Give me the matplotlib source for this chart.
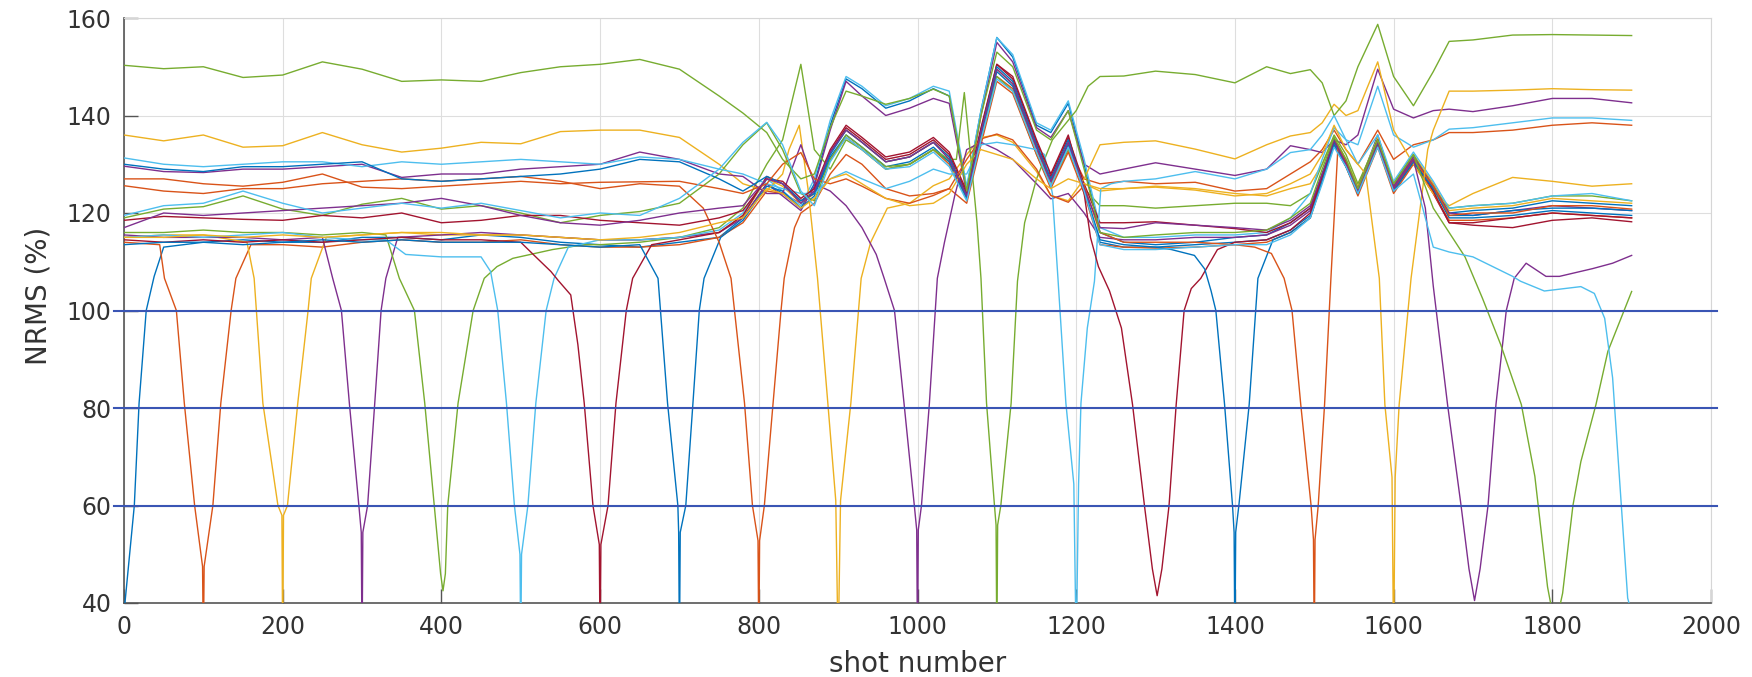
import matplotlib
matplotlib.use("Agg")
import matplotlib.pyplot as plt

# shot positions shared by the smooth part of every trace
SHOT_GRID = [0, 50, 100, 150, 200, 250, 300, 350, 400, 450, 500, 550, 600, 650, 700, 750,
             780, 810, 830, 853, 870, 890, 910, 930, 960, 990, 1020, 1040, 1062, 1080,
             1100, 1120, 1150, 1168, 1190, 1210,
             1230, 1260, 1300, 1350, 1400, 1440, 1470,
             1495, 1510, 1525, 1540, 1555, 1580, 1600, 1625,
             1650, 1670, 1700, 1750, 1800, 1850, 1900]

# ── per trace: NRMS on the grid (None where the dip points take over) + dip points ──
NRMS_00 = [None, 113, 114, 114.5, 114, 114, 115, 115, 114.5, 115.5, 115, 114, 113.5, 113, 114, 115,
           119, 126, 124, 121, 126, 138, 147.5, 145.5, 141.5, 143, 145.5, 144, 125, 141, 156, 152, 138, 136.5, 142.5, 130,
           116, 114, 113.5, 114, 115, 115.5, 118,
           121, 128, 135, 131, 125, 136, 125.5, 131.5,
           126, 120, 120.5, 121, 122.5, 122, 121.5]
DIP_X_00 = [0, 13, 19, 28, 38]
DIP_Y_00 = [38, 60, 81, 100, 107]

NRMS_01 = [114, None, None, None, 113.5, 113, 114, 114.5, 114, 114, 114.5, 113.5, 113, 113, 113.5, 115,
           118, 124.5, 124, 122, 124, 131, 135.5, 133, 129, 130, 133, 130, 123, 135, 148, 145.5, 133, 126, 133.5, 127,
           126, 126.5, 126, 126.3, 124.5, 125, 128,
           130.5, 133, 137, 133, 130, 137, 131, 134,
           135, 136.5, 136.5, 137, 138, 138.5, 138]
DIP_X_01 = [45, 51, 66, 76, 89, 99, 100, 101, 112, 122, 135, 141, 160]
DIP_Y_01 = [113.5, 106.6, 100, 81, 60, 47.5, 30, 47.5, 60, 81, 100, 106.6, 113.5]

NRMS_02 = [115, 115.5, 115.5, None, None, None, 115.5, 116, 115.5, 115.5, 115.5, 115, 114.5, 114.5, 115, 116,
           119.5, 127, 125.5, 122, 124.5, 132.5, 137, 134.5, 130.5, 131.5, 134.5, 131.5, 124, 136, 149.5, 146.5, 134, 127, 134, 126,
           124.5, 125, 125.5, 125, 124, 123.5, 125,
           126, 130, 135.5, 131, 125.5, 135.5, 126, 132,
           126, 120.5, 121, 121.5, 123, 122.5, 122]
DIP_X_02 = [155, 164, 175, 194, 199, 200, 201, 206, 219, 232, 236, 255]
DIP_Y_02 = [114, 106.6, 81, 60, 58, 30, 58, 60, 81, 100, 106.6, 115]

NRMS_03 = [115.5, 115, 115, 115, 114.5, None, None, None, 115.5, 116, 115.5, 115, 114.5, 114.5, 115, 116,
           119, 126, 123.5, 120.5, 125.5, 137, 147, 144, 140, 141.5, 143.5, 142.5, 124, 140, 155, 151, 137.5, 135.5, 141, 130,
           128, 129, 130.3, 129, 127.7, 129, 133.8,
           133, 132.4, 135, 134, 136, 149.5, 141.3, 139.5,
           141, 141.3, 140.8, 142, 143.5, 143.5, 142.6]
DIP_X_03 = [250, 263, 274, 284, 296, 299, 300, 301, 307, 316, 324, 330, 345]
DIP_Y_03 = [115, 106.6, 100, 81, 60, 54.5, 30, 54.5, 60, 81, 100, 106.6, 115]

NRMS_04 = [116, 116, 116.5, 116, 116, 115.5, 116, None, None, None, None, None, 113.5, 114, 115, 117,
           121, 130, 135, 150.5, 133, 129, 135, 133, 129, 130, 133, 130.5, 123, 135, 148, 145, 132, 125.5, 133, 125,
           121.5, 121.5, 121, 121.5, 122, 122, 121.5,
           124, 130, 136, 132, 126, 135, 126, 132,
           125, 121, 121.5, 122, 123.5, 123.5, 122.5]
DIP_X_04 = [330, 347, 366, 379, 391, 399, 402, 405, 408, 421, 440, 454, 470, 490, 540, 580]
DIP_Y_04 = [115.5, 106.6, 100, 81, 60, 46, 42.5, 46, 60, 81, 100, 106.6, 109, 110.7, 112.5, 113.5]

NRMS_05 = [115, 115.5, 115, 115.5, 116, 115, 114.5, None, None, None, None, None, 114.5, 114.5, 115, 116.5,
           120, 127, 124.5, 121.5, 127, 139, 148, 146, 142, 143.5, 146, 145, 125.5, 141, 156, 152.5, 138.5, 137, 143, 131,
           117, 115, 115, 115.5, 115.5, 116, 119,
           124, 131, 137.5, 135, 134, 146, 136, 133.5,
           135, 137.2, 137.5, 138.5, 139.5, 139.5, 139]
DIP_X_05 = [330, 355, 400, 450, 462, 471, 482, 492, 499, 500, 501, 509, 519, 532, 542, 560]
DIP_Y_05 = [114.5, 111.5, 111, 111, 108, 100, 81, 60, 50, 30, 50, 60, 81, 100, 106.6, 113]

NRMS_06 = [114.5, 114, 114.5, 114, 114.5, 114, 114.5, 115, 114.5, 114.5, None, None, None, None, 114.5, 116,
           119.5, 127.5, 126, 122.5, 124.5, 132.5, 137.5, 135, 131, 132, 135, 132, 124, 137, 150.5, 147.5, 134.5, 127.5, 135.5, 126,
           118, 118, 118.2, 117.5, 116.8, 116, 118,
           121, 128, 134, 129.5, 124, 134, 124.5, 130.5,
           124, 118, 117.5, 117, 118.5, 119, 118.2]
DIP_X_06 = [500, 517, 538, 547, 563, 572, 580, 591, 599, 600, 601, 610, 620, 633, 641, 665]
DIP_Y_06 = [114, 111.3, 108, 106.2, 103.2, 93, 81, 60, 52, 30, 52, 60, 81, 100, 106.6, 113.5]

NRMS_07 = [113.5, 114, 114, 113.5, 114, 114.5, 114, 114.5, 114, 114, 114, 113.5, 113, None, None, None,
           118.5, 125.5, 124.5, 121, 123.5, 131.5, 136, 133.5, 129.5, 130.5, 133.5, 130.5, 123, 136, 149, 146, 133.5, 126.5, 134, 124.5,
           114, 113, 113, 113.5, 114, 114.5, 116.5,
           119.5, 127, 134.5, 130, 124, 134, 124.5, 130.5,
           125, 119, 119, 119.5, 120.5, 120, 119.5]
DIP_X_07 = [650, 673, 685, 698, 699, 700, 701, 708, 717, 725, 731, 752]
DIP_Y_07 = [113.5, 106.6, 81, 60, 54.5, 30, 54.5, 60, 81, 100, 106.6, 115]

NRMS_08 = [125.6, 124.5, 124, 125, 125, 126, 126.5, 127, 126.5, 127, 127.5, 126.5, 125, 126, None, None,
           None, None, None, 120, 122, 128, 132, 130, 125, 123.5, 124, 125, 122, 134, 147, 144.5, 132, 125, 132.5, 124,
           113.5, 113, 112.8, 113, 113.5, 114, 116,
           119, 126.5, 134, 129.5, 123.5, 133.5, 124, 130,
           124, 118.5, 118.5, 119, 120, 119.5, 119]
DIP_X_08 = [700, 730, 750, 765, 782, 792, 799, 800, 801, 807, 818, 828, 832, 845]
DIP_Y_08 = [125.5, 121, 114, 106.6, 81, 60, 52.8, 30, 52.8, 60, 81, 100, 106.6, 117]

NRMS_09 = [136, 134.8, 136, 133.5, 133.8, 136.5, 134, 132.5, 133.3, 134.5, 134.2, 136.7, 137, 137, 135.5, 130,
           126, 124.5, 128, None, None, None, None, None, None, 122, 125.6, 127, 132, 135.5, 136, 134.5, 128.5, 123.6, 122.5, 127,
           134, 134.5, 134.8, 133.1, 131.1, 134, 135.8,
           136.5, 138.5, 142.3, 140, 141, 151, 137, 130,
           124, 121.5, 124, 127.3, 126.5, 125.5, 126]
DIP_X_09 = [838, 851, 862, 874, 887, 897, 900, 903, 916, 929, 941, 962]
DIP_Y_09 = [133, 138, 125, 106.6, 81, 61, 30, 61, 81, 106.6, 114, 121]

NRMS_10 = [129.6, 128.5, 128.3, 129, 129, 129.5, 130, 127.3, 128, 128, 129, 129.5, 130, 132.5, 131, 128,
           127.5, 124, 124, 134, 126, 124.5, 121.5, 117, None, None, None, None, 133, 134.5, 133, 131, 126, 122.9, 124, 120,
           115, 114.5, 114.5, 115, 115, 115.5, 117.5,
           120.5, 127.5, 135, 130.5, 125, 135, 125.5, 131.5,
           125.5, 120, 119.5, 120.5, 121.5, 121, 120.5]
DIP_X_10 = [948, 958, 971, 983, 996, 999, 1000, 1001, 1005, 1015, 1025, 1034, 1047]
DIP_Y_10 = [111.5, 106.6, 100, 81, 60, 55, 30, 55, 60, 81, 106.6, 114, 123.6]

NRMS_11 = [119, 120.8, 121.3, 123.5, 120.8, 119.5, 121.8, 123, 120.8, 121.5, 120, 118, 119.5, 120.3, 122, 128,
           134, 138.5, 133, 124, 122.5, 131, 136, 133.5, 129.5, 130, 133, None, None, None, None, None, None, None, None, None,
           148, 148.1, 149.1, 148.4, 146.7, 150, 148.6,
           149.4, 146.7, 140, 143, 150, 158.7, 148, 142,
           149, 155.2, 155.5, 156.5, 156.6, 156.5, 156.4]
DIP_X_11 = [1040, 1049, 1059, 1068, 1075, 1080, 1087, 1097, 1099, 1100, 1101, 1105, 1118, 1126, 1135, 1150, 1170, 1200, 1215]
DIP_Y_11 = [131, 131, 144.7, 130, 118, 106.6, 81, 60, 56, 30, 56, 60, 81, 106, 118, 127, 135, 141, 146]

NRMS_12 = [131.3, 130, 129.5, 130, 130.5, 130.5, 129.5, 130.5, 130, 130.5, 131, 130.5, 130, 131.5, 131, 129,
           128, 126, 125, 124, 124, 127, 128.5, 127, 125, 126.5, 129, 128, 128, 134, 134.5, 134, 133, None, None, None,
           None, 126.5, 127, 128.5, 127, 129, 132.4,
           133, 136, 140, 135, 130, 136, 126.5, 132.5,
           126.5, 121, 121.5, 122, 123.5, 124, 122.5]
DIP_X_12 = [1160, 1170, 1177, 1187, 1197, 1200, 1203, 1206, 1214, 1223, 1231, 1244]
DIP_Y_12 = [132, 124, 106.6, 81, 64.4, 30, 64.4, 81, 96.4, 106, 125, 126]

NRMS_13 = [118.5, 119.3, 119, 118.7, 118.5, 119.5, 119, 120, 118, 118.5, 119.5, 119.5, 118.5, 118, 117.5, 119,
           120.5, 127, 126.5, 123, 125, 133, 138, 135.5, 131.5, 132.5, 135.5, 132.5, 124.5, 137.5, 150.5, 148, 135, 128, 136, 124,
           None, None, None, None, 114, 114.5, 116.5,
           120, 127.5, 135, 130.5, 124, 135, 125, 131,
           124.5, 118, 118, 119, 120, 119.5, 119]
DIP_X_13 = [1218, 1228, 1242, 1257, 1271, 1286, 1296, 1302, 1308, 1317, 1326, 1336, 1345, 1357, 1378]
DIP_Y_13 = [115, 109, 104, 96.4, 80.7, 60, 47, 41.5, 47, 60, 80.7, 100, 104.5, 106.6, 112.5]

NRMS_14 = [130, 129, 128.5, 129.5, 129.5, 130, 130.5, 127, 126.5, 127, 127.5, 128, 129, 131, 130.5, 127,
           124.5, 127.5, 126, 122.5, 124, 132, 137, 134.5, 130.5, 131.5, 134.5, 131.5, 123.5, 136.5, 150, 147, 134, 127, 135, 125,
           114.5, 113.5, 113, None, None, None, 116,
           119, 126.5, 134, 129.5, 124, 134.5, 124.5, 130.5,
           125, 119.5, 119.5, 120.5, 121, 121, 120.5]
DIP_X_14 = [1320, 1349, 1362, 1370, 1376, 1387, 1397, 1399, 1400, 1401, 1405, 1418, 1429, 1448]
DIP_Y_14 = [112.5, 111.3, 108.5, 104, 100, 80.7, 60, 54.5, 30, 54.5, 60, 80.7, 106.6, 114.5]

NRMS_15 = [127, 127, 126, 125.5, 126.3, 128, 125.3, 125, 125.5, 126, 126.5, 126, 126.3, 126.4, 126.5, 125,
           124, 126, 130, 132.4, 127, 126, 127, 125.5, 123, 122, 123.6, 125, 131, 135.2, 136.2, 135, 129, 123.6, 122.2, 125.6,
           116, 114, 114, 114, 113.5, None, None,
           None, None, None, 130, 124.5, 134.5, 125, 131,
           125.5, 119.5, 120, 120, 121.5, 121.5, 120.8]
DIP_X_15 = [1425, 1446, 1462, 1472, 1483, 1496, 1499, 1500, 1501, 1505, 1513, 1521, 1530]
DIP_Y_15 = [113, 111.7, 106.6, 100, 80.7, 60, 53, 30, 53, 60, 80.7, 106.6, 134]

NRMS_16 = [115, 115, 115.5, 115, 115.5, 115, 115.5, 116, 116, 115.5, 115.5, 115, 114.5, 115, 116, 118,
           119, 125, 124, 121, 123, 127, 128, 126, 123, 121.5, 122, 124, 130, 133, 132, 131, 127, 125, 127, 126,
           125, 125, 125.3, 124.7, 123.5, 124, 126,
           128, 132, 138, 133, 130, None, None, None,
           137, 145, 145, 145.2, 145.5, 145.3, 145.2]
DIP_X_16 = [1565, 1582, 1589, 1598, 1600, 1602, 1607, 1622, 1643]
DIP_Y_16 = [128, 106.6, 80.7, 65.8, 30, 65.8, 80.7, 106.6, 133]

NRMS_17 = [117, 120, 119.5, 120, 120.5, 121, 121.5, 122, 123, 121.5, 119.5, 118, 117.5, 118.5, 120, 121,
           121.5, 127, 126, 122, 124.5, 132.5, 137, 134.5, 130.5, 131.5, 134.5, 131, 123.5, 136.5, 149.5, 146.5, 133.5, 126.5, 134.5, 125,
           117, 116.8, 118, 117.5, 117, 116.5, 118.5,
           121.5, 128, 135, 130, 124.5, 134.5, 125, None,
           None, None, None, None, None, None, None]
DIP_X_17 = [1625, 1640, 1650, 1668, 1685, 1695, 1702, 1709, 1719, 1729, 1742, 1752, 1767, 1792, 1809, 1851, 1876, 1900]
DIP_Y_17 = [131, 121, 105, 80.7, 60, 47, 40.5, 47, 60, 80.7, 100, 106.6, 109.7, 107, 107, 108.6, 109.7, 111.3]

NRMS_18 = [150.3, 149.6, 150, 147.8, 148.3, 151, 149.5, 147, 147.3, 147, 148.8, 150, 150.5, 151.5, 149.5, 144,
           140.5, 136.5, 131, 127, 128, 137.5, 145, 144, 142.3, 143.5, 145.4, 144, 124.5, 140, 153, 150, 137, 135, 141, 129,
           116, 115, 115.5, 116, 116, 116.5, 119,
           122, 129, 135.5, 131, 125, 135, 126, 132,
           121, 116, None, None, None, None, None]
DIP_X_18 = [1690, 1712, 1735, 1761, 1778, 1794, 1799, 1804, 1809, 1813, 1826, 1836, 1855, 1870, 1900]
DIP_Y_18 = [111, 102.5, 93, 80.7, 66, 43.3, 39, 35, 39, 42, 60, 69, 80.7, 91.6, 103.9]

NRMS_19 = [119.5, 121.5, 122, 124.5, 122, 120, 121, 122, 121, 122, 120.5, 119, 120, 119.5, 123, 129,
           134.5, 138.6, 134, 124.5, 121.5, 130.5, 135.5, 133, 129, 129.5, 132.5, 129.5, 122.5, 135, 147.5, 145, 132.5, 125.5, 133.5, 124.5,
           113.5, 112.5, 112.5, 113, 113.5, 113.5, 115.5,
           119, 126, 133.5, 129.5, 124, 133.5, 124.5, 128,
           113, 112, 111, 107, None, None, None]
DIP_X_19 = [1760, 1790, 1836, 1853, 1866, 1876, 1887, 1895, 1900]
DIP_Y_19 = [106, 104, 104.9, 103.5, 98.4, 86.2, 60, 41, 38]

TRACES = [
    (NRMS_00, DIP_X_00, DIP_Y_00), (NRMS_01, DIP_X_01, DIP_Y_01), (NRMS_02, DIP_X_02, DIP_Y_02),
    (NRMS_03, DIP_X_03, DIP_Y_03), (NRMS_04, DIP_X_04, DIP_Y_04), (NRMS_05, DIP_X_05, DIP_Y_05),
    (NRMS_06, DIP_X_06, DIP_Y_06), (NRMS_07, DIP_X_07, DIP_Y_07), (NRMS_08, DIP_X_08, DIP_Y_08),
    (NRMS_09, DIP_X_09, DIP_Y_09), (NRMS_10, DIP_X_10, DIP_Y_10), (NRMS_11, DIP_X_11, DIP_Y_11),
    (NRMS_12, DIP_X_12, DIP_Y_12), (NRMS_13, DIP_X_13, DIP_Y_13), (NRMS_14, DIP_X_14, DIP_Y_14),
    (NRMS_15, DIP_X_15, DIP_Y_15), (NRMS_16, DIP_X_16, DIP_Y_16), (NRMS_17, DIP_X_17, DIP_Y_17),
    (NRMS_18, DIP_X_18, DIP_Y_18), (NRMS_19, DIP_X_19, DIP_Y_19),
]

# MATLAB default colour order
LINE_COLORS = ["#0072BD", "#D95319", "#EDB120", "#7E2F8E", "#77AC30", "#4DBEEE", "#A2142F"]
REF_LEVELS = [100, 80, 60]
X_TICKS = list(range(0, 2001, 200))
Y_TICKS = list(range(40, 161, 20))


def merge(grid_y, dip_x, dip_y):
    assert len(grid_y) == len(SHOT_GRID)
    pts = [(s, v) for s, v in zip(SHOT_GRID, grid_y) if v is not None]
    pts += list(zip(dip_x, dip_y))
    pts.sort()
    return [p[0] for p in pts], [p[1] for p in pts]


plt.rcParams["font.family"] = ["DejaVu Sans"]

fig = plt.figure(figsize=(17.52, 6.77), dpi=100)
ax = fig.add_axes([124 / 1752, 1 - 603 / 677, 1587 / 1752, 585 / 677])

for i, (grid_y, dx, dy) in enumerate(TRACES):
    xs, ys = merge(grid_y, dx, dy)
    ax.plot(xs, ys, color=LINE_COLORS[i % 7], lw=1.0, zorder=3)

# reference levels drawn across the whole frame
for lvl in REF_LEVELS:
    ax.plot([-0.006, 1.004], [lvl, lvl], transform=ax.get_yaxis_transform(),
            color="#3A55B4", lw=1.5, clip_on=False, zorder=5)

ax.set_xlim(0, 2000)
ax.set_ylim(40, 160)
ax.set_xticks(X_TICKS)
ax.set_yticks(Y_TICKS)
ax.grid(True, color="#dedede", lw=0.8, zorder=0)
ax.set_axisbelow(True)

for side in ["left", "bottom"]:
    ax.spines[side].set_color("#555555")
    ax.spines[side].set_linewidth(1.2)
for side in ["top", "right"]:
    ax.spines[side].set_color("#d6d6d6")
    ax.spines[side].set_linewidth(0.8)

ax.tick_params(direction="in", length=10, width=1, color="#555555",
               labelsize=17, labelcolor="#333333", pad=9)

ax.set_xlabel("shot number", fontsize=20, color="#333333", va="center")
ax.xaxis.set_label_coords(0.5, (603 - 664) / 585)
ax.set_ylabel("NRMS (%)", fontsize=20, color="#333333", va="center", ha="center")
ax.yaxis.set_label_coords((39 - 124) / 1587, (603 - 296) / 585)

fig.savefig("out.png", dpi=100, facecolor="white")
